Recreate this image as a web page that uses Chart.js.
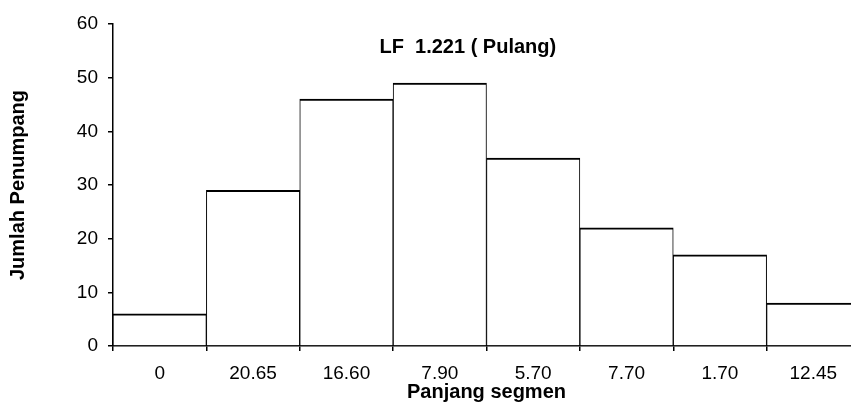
<!DOCTYPE html>
<html>
<head>
<meta charset="utf-8">
<script src="https://cdn.jsdelivr.net/npm/chart.js@4"></script>
<style>
  html, body { margin: 0; padding: 0; background: #fff; overflow: hidden; }
  #wrap { width: 870px; height: 410px; position: relative; }
</style>
</head>
<body>
<div id="wrap"><canvas id="myChart"></canvas></div>
<script>
const segments = ["0", "20.65", "16.60", "7.90", "5.70", "7.70", "1.70", "12.45"];
const passengers = [6, 29, 46, 49, 35, 22, 17, 8];
const yTicks = [0, 10, 20, 30, 40, 50, 60];
const chartTitle = "LF  1.221 ( Pulang)";

const fontFamily = "'Liberation Sans', Arial, sans-serif";

// title sits inside the plot area, like the original
const innerTitle = {
  id: "innerTitle",
  afterDraw(chart) {
    const { ctx, chartArea } = chart;
    ctx.save();
    ctx.font = "bold 20px " + fontFamily;
    ctx.fillStyle = "#000";
    ctx.textAlign = "center";
    ctx.textBaseline = "middle";
    ctx.fillText(chartTitle, chartArea.left + (chartArea.right - chartArea.left) * 0.475, chartArea.top + 23);
    ctx.restore();
  }
};

const data = {
  labels: segments,
  datasets: [
    {
      data: passengers,
      backgroundColor: "#fff",
      borderColor: "#000",
      borderWidth: { top: 2, left: 1, right: 1, bottom: 0 },
      borderSkipped: false,
      categoryPercentage: 1.0,
      barPercentage: 1.0,
    },
  ],
};

const config = {
  type: "bar",
  data: data,
  options: {
    responsive: true,
    maintainAspectRatio: false,
    animation: false,
    layout: {
      padding: { top: 24, right: 10, bottom: 0, left: 0 },
    },
    scales: {
      x: {
        grid: {
          offset: true,
          drawOnChartArea: false,
          drawTicks: true,
          tickLength: 5,
          color: "#000",
          lineWidth: 1.5,
        },
        border: { color: "#000", width: 1.5 },
        ticks: {
          color: "#000",
          padding: 11,
          maxRotation: 0,
          font: { family: fontFamily, size: 19 },
        },
        title: {
          display: true,
          text: "Panjang segmen",
          color: "#000",
          font: { family: fontFamily, size: 20, weight: "bold" },
          padding: { top: 0, bottom: 6 },
        },
        afterFit(scale) { scale.height = 64; },
      },
      y: {
        min: 0,
        max: 60,
        afterBuildTicks(scale) {
          scale.ticks = yTicks.map(v => ({ value: v }));
        },
        grid: {
          drawOnChartArea: false,
          drawTicks: true,
          tickLength: 5,
          color: "#000",
          lineWidth: 1.5,
        },
        border: { color: "#000", width: 1.5 },
        ticks: {
          color: "#000",
          padding: 10,
          font: { family: fontFamily, size: 19 },
        },
        title: {
          display: true,
          text: "Jumlah Penumpang",
          color: "#000",
          font: { family: fontFamily, size: 20, weight: "bold" },
          padding: { top: 6, bottom: 0 },
        },
        afterFit(scale) { scale.width = 113; },
      },
    },
    plugins: {
      legend: { display: false },
      tooltip: { enabled: false },
    },
  },
  plugins: [innerTitle],
};

const myChart = new Chart(
  document.getElementById("myChart").getContext("2d"),
  config
);
</script>
</body>
</html>
